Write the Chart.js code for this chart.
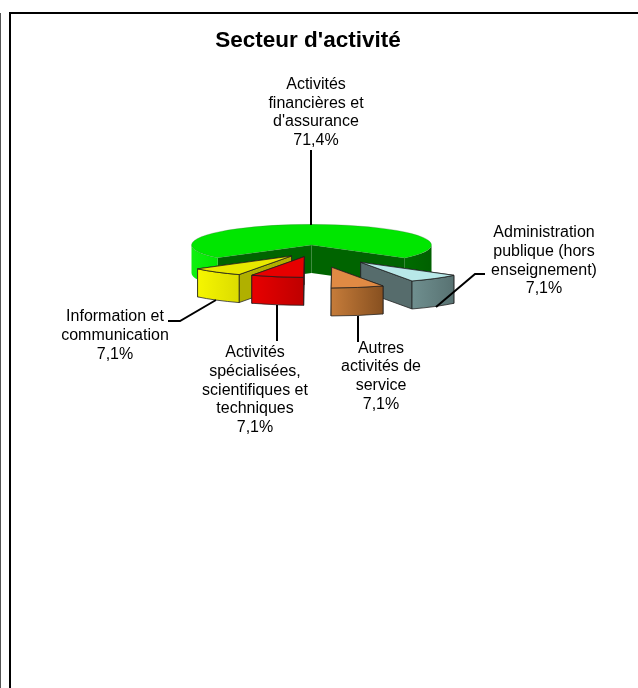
<!DOCTYPE html>
<html lang="fr">
<head>
<meta charset="utf-8">
<title>Secteur d'activité</title>
<script src="https://cdn.jsdelivr.net/npm/chart.js@4"></script>
<style>
html,body{margin:0;padding:0;background:#fff}
canvas{display:block}
</style>
</head>
<body>
<canvas id="c" width="638" height="688"></canvas>
<script>
const chartTitle = "Secteur d'activité";
const categories = [
  "Activités financières et d'assurance",
  "Administration publique (hors enseignement)",
  "Autres activités de service",
  "Activités spécialisées, scientifiques et techniques",
  "Information et communication"
];
const values = [71.4, 7.1, 7.1, 7.1, 7.1];
const labelLines = [
  ["Activités", "financières et", "d'assurance"],
  ["Administration", "publique (hors", "enseignement)"],
  ["Autres", "activités de", "service"],
  ["Activités", "spécialisées,", "scientifiques et", "techniques"],
  ["Information et", "communication"]
];
const topColors = ["#00E600", "#B8E8E8", "#E08A44", "#E60000", "#E8E800"];

// Drawing constants (not data)
const FONT = '"Liberation Sans", Arial, sans-serif';
const K = 0.172, DEPTH = 28;
const sliceShift = [[3.5,0],[52.7,17.3],[23.7,22.3],[-3.8,11.7],[-16.5,11]];
const wallStops = [
  [["#10F010","#00E800"],["#006C00","#006000"]],
  [["#6F8F8F","#587272"]],
  [["#C67C3A","#875020"]],
  [["#E80000","#BE0000"]],
  [["#F6F600","#DCDC00"]]
];
const cutColors = ["#006400", "#566C6C", "#9A5E2A", "#A80000", "#B0B000"];
const labelPlace = [
  {x:316, y:[85,104,122,141]},
  {x:544, y:[233,252,271,289]},
  {x:381, y:[349,367,386,405]},
  {x:255, y:[353,372,391,409,428]},
  {x:115, y:[317,336,355]}
];
const leaders = [
  [[311,150],[311,225]],
  [[436,307],[475,274],[485,274]],
  [[358,316],[358,342]],
  [[277,305],[277,341]],
  [[216,300],[180,321],[168,321]]
];

const pct = v => v.toFixed(1).replace(".", ",") + "%";

function drawWedge(ctx, arc, i) {
  const [sx, sy] = sliceShift[i];
  const r = arc.outerRadius, ry = r * K;
  const cx = arc.x + sx, cy = arc.y + sy;
  const a0 = arc.startAngle, a1 = arc.endAngle;
  const edge = i === 0 ? 'rgba(70,110,70,0.5)' : 'rgba(30,30,30,0.85)';
  const lw = i === 0 ? 0.6 : 0.9;
  ctx.save();
  ctx.lineWidth = lw; ctx.strokeStyle = edge; ctx.lineJoin = 'round';

  const face = (a, col) => {
    const px = cx + r * Math.cos(a), py = cy + ry * Math.sin(a);
    ctx.beginPath();
    ctx.moveTo(cx, cy); ctx.lineTo(px, py);
    ctx.lineTo(px, py + DEPTH); ctx.lineTo(cx, cy + DEPTH);
    ctx.closePath();
    ctx.fillStyle = col; ctx.fill();
    if (i) ctx.stroke();
  };
  const startVisible = -Math.cos(a0) > 0.02, endVisible = Math.cos(a1) > 0.02;
  if (!startVisible) face(a0, cutColors[i]);
  if (!endVisible) face(a1, cutColors[i]);
  if (startVisible) face(a0, cutColors[i]);
  if (endVisible) face(a1, cutColors[i]);

  // outer curved wall: only the portions on the viewer's side
  const segs = [];
  for (const k of [0, 1]) {
    const lo = Math.max(a0, k * 2 * Math.PI);
    const hi = Math.min(a1, k * 2 * Math.PI + Math.PI);
    if (hi > lo) segs.push([lo, hi]);
  }
  segs.forEach(([lo, hi]) => {
    const xa = cx + r * Math.cos(hi), xb = cx + r * Math.cos(lo);
    const stops = (i === 0) ? wallStops[0][xa < cx ? 0 : 1] : wallStops[i][0];
    const g = ctx.createLinearGradient(xa, 0, xb, 0);
    g.addColorStop(0, stops[0]); g.addColorStop(1, stops[1]);
    ctx.beginPath();
    ctx.ellipse(cx, cy, r, ry, 0, lo, hi);
    ctx.ellipse(cx, cy + DEPTH, r, ry, 0, hi, lo, true);
    ctx.closePath();
    ctx.fillStyle = g; ctx.fill();
    if (i) ctx.stroke();
  });

  // top face, drawn by the library's own arc element under a flattening transform
  ctx.save();
  ctx.translate(cx, cy); ctx.scale(1, K); ctx.translate(-arc.x, -arc.y);
  arc.draw(ctx);
  ctx.restore();
  ctx.beginPath();
  ctx.moveTo(cx, cy);
  ctx.ellipse(cx, cy, r, ry, 0, a0, a1);
  ctx.closePath();
  ctx.stroke();
  ctx.restore();
}

const scenePlugin = {
  id: 'scene',
  beforeDraw(chart) {
    const ctx = chart.ctx;
    ctx.save();
    ctx.fillStyle = '#fff'; ctx.fillRect(0, 0, 638, 688);
    ctx.fillStyle = '#000';
    ctx.fillRect(9, 12, 629, 2);
    ctx.fillRect(9, 12, 2, 676);
    ctx.fillStyle = '#555';
    ctx.fillRect(0, 13, 1, 675);
    ctx.restore();
  },
  beforeDatasetsDraw(chart) {
    const ctx = chart.ctx;
    const arcs = chart.getDatasetMeta(0).data;
    [0, 1, 4, 2, 3].forEach(i => drawWedge(ctx, arcs[i], i));

    ctx.save();
    ctx.strokeStyle = '#000'; ctx.lineWidth = 2; ctx.lineJoin = 'miter';
    leaders.forEach(pts => {
      ctx.beginPath();
      pts.forEach((p, n) => n ? ctx.lineTo(p[0], p[1]) : ctx.moveTo(p[0], p[1]));
      ctx.stroke();
    });
    ctx.fillStyle = '#000';
    ctx.font = '16px ' + FONT;
    ctx.textAlign = 'center'; ctx.textBaseline = 'middle';
    labelLines.forEach((lines, i) => {
      const all = lines.concat(pct(values[i]));
      all.forEach((t, n) => ctx.fillText(t, labelPlace[i].x, labelPlace[i].y[n]));
    });
    ctx.restore();
    return false;
  }
};

new Chart(document.getElementById('c'), {
  type: 'pie',
  data: {
    labels: categories,
    datasets: [{ data: values, backgroundColor: topColors, borderWidth: 0 }]
  },
  options: {
    responsive: false,
    animation: false,
    rotation: 231.5,
    radius: 120,
    layout: { padding: { left: 188, right: 210, top: 0, bottom: 323 } },
    plugins: {
      legend: { display: false },
      tooltip: { enabled: false },
      title: {
        display: true,
        text: chartTitle,
        color: '#000',
        font: { family: FONT, size: 22.5, weight: 'bold', lineHeight: 1.2 },
        padding: { top: 27, bottom: 71 }
      }
    }
  },
  plugins: [scenePlugin]
});
</script>
</body>
</html>
